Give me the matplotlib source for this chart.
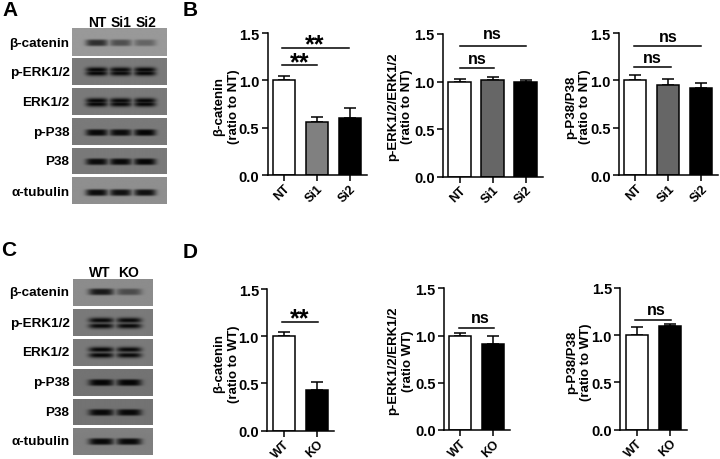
# 重画 western blot + 柱状图组图
import numpy as np
import matplotlib
matplotlib.use('Agg')
import matplotlib.pyplot as plt

plt.rcParams['font.family'] = ['Liberation Sans', 'DejaVu Sans']
plt.rcParams['font.weight'] = 'bold'

W, H = 720, 460

# panel B
groups_b = ['NT', 'Si1', 'Si2']
bcat_b = [1.0, 0.56, 0.60]
bcat_b_err = [0.05, 0.05, 0.11]
erk_b = [1.0, 1.02, 1.0]
erk_b_err = [0.03, 0.03, 0.02]
p38_b = [1.0, 0.95, 0.92]
p38_b_err = [0.06, 0.06, 0.05]

# panel D
groups_d = ['WT', 'KO']
bcat_d = [1.0, 0.43]
bcat_d_err = [0.04, 0.09]
erk_d = [1.0, 0.91]
erk_d_err = [0.03, 0.08]
p38_d = [1.0, 1.10]
p38_d_err = [0.09, 0.02]

blot_labels = ['β-catenin', 'p-ERK1/2', 'ERK1/2', 'p-P38', 'P38', 'α-tubulin']
# band darkness per lane
blot_a = [[0.72, 0.50, 0.36], [1.0, 0.97, 1.0], [1.0, 0.98, 1.0],
          [0.97, 0.95, 1.0], [0.95, 0.97, 1.0], [0.95, 0.92, 0.92]]
blot_c = [[0.85, 0.48], [0.97, 0.97], [1.0, 0.97], [1.0, 1.0], [0.97, 0.97], [0.97, 0.97]]
blot_bg_a = [0.60, 0.48, 0.48, 0.48, 0.48, 0.56]
blot_bg_c = [0.55, 0.48, 0.48, 0.45, 0.45, 0.50]
doublet = [False, True, True, False, False, False]

strips_a = [(29.3, 56.7), (59.3, 86.3), (89, 116), (119, 145.7), (148.7, 174.7), (178, 204.7)]
bands_a = [43.7, 72.7, 103.3, 133.3, 162.3, 193.3]
strips_c = [(280.7, 307.3), (310, 337), (340, 367), (370, 396.7), (399.7, 425.7), (429, 455.7)]
bands_c = [293.3, 324, 353.3, 383.3, 413, 442.3]

fig = plt.figure(figsize=(W / 100, H / 100), dpi=100)
page = fig.add_axes([0, 0, 1, 1])
page.set_xlim(0, W)
page.set_ylim(H, 0)
page.axis('off')


def draw_blot(x0, x1, strips, bands, lanes, halfw, amps, bgs, gap):
    for (y0, y1), yc, row, bg, dbl in zip(strips, bands, amps, bgs, doublet):
        xs = np.arange(x0, x1, 0.25)
        ys = np.arange(y0, y1, 0.25)
        xx, yy = np.meshgrid(xs, ys)
        dark = np.zeros_like(xx)
        for lx, amp in zip(lanes, row):
            xp = np.exp(-((xx - lx) / halfw) ** 4)
            if dbl:
                yp = np.maximum(np.exp(-((yy - yc + gap) / 2.7) ** 2),
                                np.exp(-((yy - yc - gap) / 2.7) ** 2))
            else:
                yp = np.exp(-((yy - yc) / 3.3) ** 4)
            dark = np.maximum(dark, amp * xp * yp)
        img = bg - dark * (bg - 0.02)
        page.imshow(img, extent=(x0, x1, y1, y0), cmap='gray', vmin=0, vmax=1,
                    aspect='auto', interpolation='bilinear')
    page.set_xlim(0, W)
    page.set_ylim(H, 0)
    for yc, name in zip(bands, blot_labels):
        page.text(69.5, yc, name, ha='right', va='center', fontsize=9.7)


draw_blot(72.3, 167, strips_a, bands_a, [97, 120.7, 145], 11, blot_a, blot_bg_a, 1.7)
draw_blot(72.7, 152, strips_c, bands_c, [100.7, 128.3], 12.5, blot_c, blot_bg_c, 2.8)

for x, name in zip([97, 121, 145.5], groups_b):
    page.text(x, 23, name, ha='center', va='center', fontsize=10)
for x, name in zip([99.5, 128.5], groups_d):
    page.text(x, 273, name, ha='center', va='center', fontsize=10)

for x, y, name in [(10, 11, 'A'), (190, 11, 'B'), (9, 251, 'C'), (190, 252, 'D')]:
    page.text(x, y, name, ha='center', va='center', fontsize=15)


def bar_panel(left, right, top, bottom, first, names, vals, errs, colors):
    ax = fig.add_axes([left / W, 1 - bottom / H, (right - left) / W, (bottom - top) / H])
    ax.patch.set_alpha(0)
    pos = np.arange(len(vals))
    ax.bar(pos, vals, width=0.67, color=colors, edgecolor='black', linewidth=1.1, zorder=2)
    lower = np.zeros(len(vals))
    ax.errorbar(pos, vals, yerr=[lower, errs], fmt='none', ecolor='black', elinewidth=1.1,
                capsize=4.5, capthick=1.1, zorder=1)
    ax.set_xlim((left - first) / 33, (right - first) / 33)
    ax.set_ylim(0, 1.5)
    ax.set_yticks([0, 0.5, 1.0, 1.5])
    ax.set_yticklabels(['0.0', '0.5', '1.0', '1.5'], fontsize=10.5)
    ax.set_xticks(pos)
    ax.set_xticklabels(names, fontsize=9, rotation=45, ha='right', rotation_mode='anchor')
    ax.tick_params(width=1.1, length=4, pad=2)
    ax.tick_params(axis='x', pad=1)
    ax.spines['top'].set_visible(False)
    ax.spines['right'].set_visible(False)
    ax.spines['left'].set_linewidth(1.1)
    ax.spines['bottom'].set_linewidth(1.1)
    return ax


def sig(ax, x0, x1, y, text, tx, ty):
    ax.plot([x0, x1], [y, y], color='black', lw=1.1, clip_on=False)
    if text == '**':
        # asterisks sit high in the font, so place by baseline
        ax.text(tx, ty - 0.115, text, ha='center', va='baseline', fontsize=18, clip_on=False)
    else:
        ax.text(tx, ty, text, ha='center', va='center', fontsize=11.5, clip_on=False)


def ylab(x, y, text):
    page.text(x, y, text, rotation=90, ha='center', va='center', fontsize=9.5,
              linespacing=1.25, multialignment='center')


b1 = bar_panel(267.5, 367, 34, 176, 283.7, groups_b, bcat_b, bcat_b_err, ['white', '#808080', 'black'])
sig(b1, -0.04, 1.99, 1.345, '**', 0.95, 1.426)
sig(b1, -0.04, 1.0, 1.16, '**', 0.47, 1.235)
b2 = bar_panel(443, 542.7, 35, 177.7, 459.5, groups_b, erk_b, erk_b_err, ['white', '#666666', 'black'])
sig(b2, 0, 2.02, 1.37, 'ns', 1.0, 1.505)
sig(b2, 0, 1.05, 1.145, 'ns', 0.53, 1.245)
b3 = bar_panel(619, 718, 34, 176, 635.3, groups_b, p38_b, p38_b_err, ['white', '#666666', 'black'])
sig(b3, -0.05, 2.0, 1.36, 'ns', 1.0, 1.465)
sig(b3, -0.05, 1.09, 1.145, 'ns', 0.52, 1.245)

d1 = bar_panel(267.3, 334, 290, 431.7, 283.7, groups_d, bcat_d, bcat_d_err, ['white', 'black'])
sig(d1, -0.05, 1.04, 1.15, '**', 0.47, 1.235)
d2 = bar_panel(444, 510, 289.3, 431, 460.2, groups_d, erk_d, erk_d_err, ['white', 'black'])
sig(d2, -0.03, 1.02, 1.085, 'ns', 0.62, 1.195)
d3 = bar_panel(620.3, 687, 288.7, 430.7, 636.7, groups_d, p38_d, p38_d_err, ['white', 'black'])
sig(d3, -0.05, 1.04, 1.16, 'ns', 0.6, 1.27)

ylab(226.5, 107, 'β-catenin\n(ratio to NT)')
ylab(400, 107, 'p-ERK1/2/ERK1/2\n(ratio to NT)')
ylab(578, 107, 'p-P38/P38\n(ratio to NT)')
ylab(226.5, 364, 'β-catenin\n(ratio to WT)')
ylab(400.5, 361, 'p-ERK1/2/ERK1/2\n(ratio WT)')
ylab(579, 362, 'p-P38/P38\n(ratio to WT)')

fig.savefig('out.png', dpi=100)
